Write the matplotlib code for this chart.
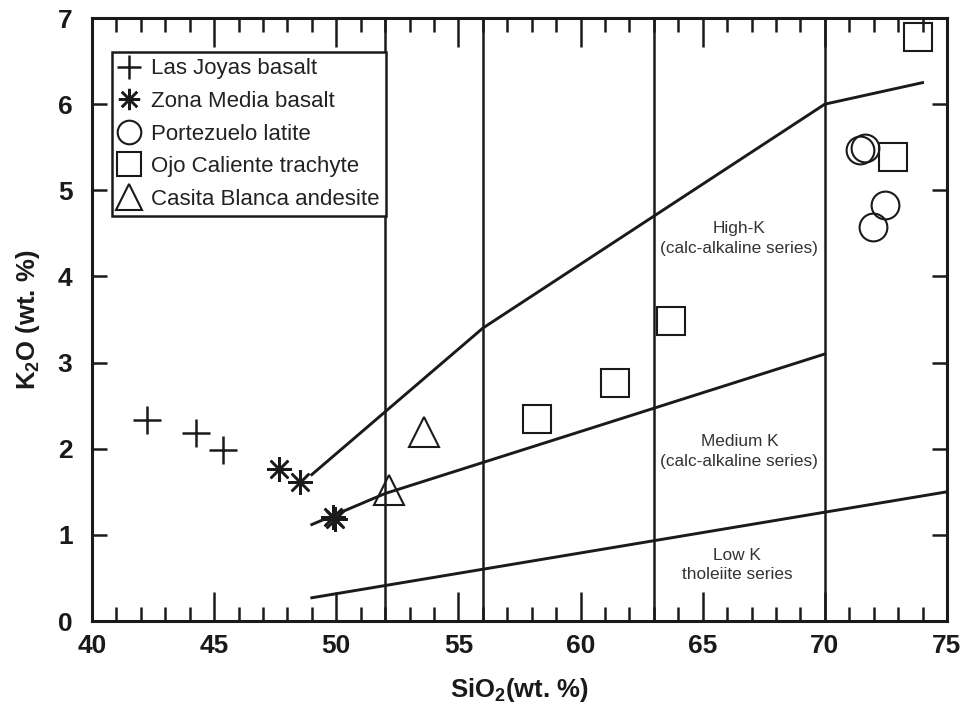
import matplotlib
matplotlib.use("Agg")
import matplotlib.pyplot as plt
from matplotlib.ticker import MultipleLocator

plt.rcParams['font.family'] = ['Liberation Sans', 'DejaVu Sans']
plt.rcParams['mathtext.fontset'] = 'custom'
plt.rcParams['mathtext.rm'] = 'Liberation Sans'
plt.rcParams['mathtext.bf'] = 'Liberation Sans:bold'

# data
joyas_x = [42.25, 44.25, 45.35]
joyas_y = [2.33, 2.18, 1.99]
zona_x = [47.65, 48.5, 49.85, 49.95]
zona_y = [1.77, 1.61, 1.21, 1.19]
port_x = [71.45, 71.65, 72.45, 71.98]
port_y = [5.47, 5.49, 4.83, 4.57]
ojo_x = [58.2, 61.4, 63.7, 72.8, 73.8]
ojo_y = [2.34, 2.76, 3.48, 5.39, 6.78]
casita_x = [53.6, 52.15]
casita_y = [2.2, 1.52]

# series boundaries
highk_x = [49, 56, 70, 74]
highk_y = [1.7, 3.4, 6.0, 6.25]
medk_x = [49, 52, 70]
medk_y = [1.12, 1.48, 3.1]
lowk_x = [49, 75]
lowk_y = [0.27, 1.5]
split_x = [52, 56, 63, 70]

ink = '#1a1a1a'

fig = plt.figure(figsize=(9.65, 7.07), dpi=100)
ax = fig.add_axes([0.0953, 0.1216, 0.8860, 0.8529])
ax.set_xlim(40, 75)
ax.set_ylim(0, 7)

for xv in split_x:
    ax.axvline(xv, color=ink, lw=1.8, zorder=1)
ax.plot(highk_x, highk_y, color=ink, lw=2.1, zorder=2)
ax.plot(medk_x, medk_y, color=ink, lw=2.1, zorder=2)
ax.plot(lowk_x, lowk_y, color=ink, lw=2.1, zorder=2)

ms = 20
ax.plot(joyas_x, joyas_y, ls='none', marker='+', ms=ms, mew=1.8, color=ink,
        label='Las Joyas basalt', zorder=3)
ax.plot(zona_x, zona_y, ls='none', marker=(8, 2, 0), ms=18, mew=1.8, color=ink,
        label='Zona Media basalt', zorder=3)
ax.plot(port_x, port_y, ls='none', marker='o', ms=ms, mew=1.5, mfc='none', mec=ink,
        label='Portezuelo latite', zorder=3)
ax.plot(ojo_x, ojo_y, ls='none', marker='s', ms=ms, mew=1.5, mfc='none', mec=ink,
        label='Ojo Caliente trachyte', zorder=3)
ax.plot(casita_x, casita_y, ls='none', marker='^', ms=22, mew=1.5, mfc='none', mec=ink,
        label='Casita Blanca andesite', zorder=3)

leg = ax.legend(loc='upper left', bbox_to_anchor=(0.023, 0.944), borderaxespad=0,
                fontsize=16, frameon=True, fancybox=False, edgecolor=ink,
                framealpha=1, handlelength=1.0, handletextpad=0.45, labelspacing=0.52,
                borderpad=0.3, markerscale=0.85)
leg.get_frame().set_linewidth(1.8)
leg.set_zorder(5)
for t in leg.get_texts():
    t.set_color('#222222')

txt = dict(ha='center', va='center', fontsize=12.4, color='#333333', linespacing=1.4)
ax.text(66.5, 4.44, 'High-K\n(calc-alkaline series)', **txt)
ax.text(66.5, 1.97, 'Medium K\n(calc-alkaline series)', **txt)
ax.text(66.4, 0.65, 'Low K\ntholeiite series', **txt)

ax.xaxis.set_major_locator(MultipleLocator(5))
ax.xaxis.set_minor_locator(MultipleLocator(1))
ax.yaxis.set_major_locator(MultipleLocator(1))
ax.tick_params(axis='x', which='major', direction='in', top=True, length=21, width=1.8,
               labelsize=19, pad=9, color=ink)
ax.tick_params(axis='x', which='minor', direction='in', top=True, length=10, width=1.8,
               color=ink)
ax.tick_params(axis='y', which='major', direction='in', right=True, length=11, width=1.8,
               labelsize=19, pad=14, color=ink)
for lab in ax.get_xticklabels() + ax.get_yticklabels():
    lab.set_fontweight('bold')
    lab.set_color(ink)

for sp in ax.spines.values():
    sp.set_linewidth(2.2)
    sp.set_color(ink)

ax.set_xlabel(r'SiO$_\mathbf{2}$(wt. %)', fontsize=18.5, fontweight='bold', color=ink,
              labelpad=13)
ax.set_ylabel(r'K$_\mathbf{2}$O (wt. %)', fontsize=18.5, fontweight='bold', color=ink,
              labelpad=11)

fig.savefig('out.png', dpi=100)
